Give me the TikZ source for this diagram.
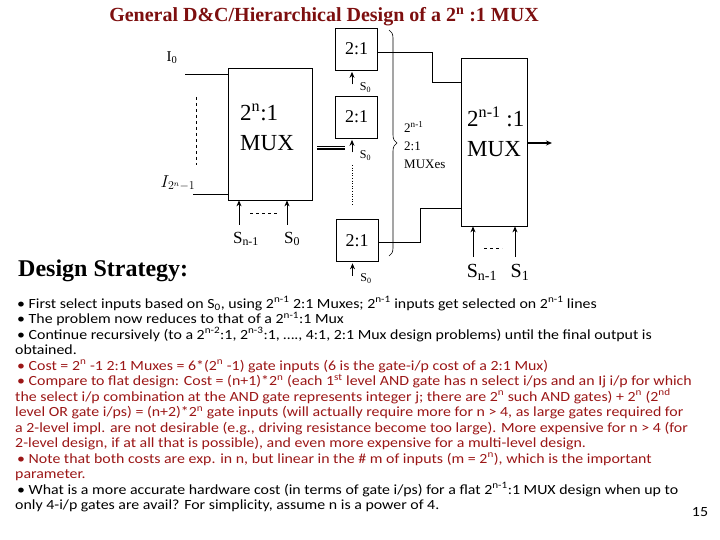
\documentclass[tikz,border=0pt]{standalone}
\usepackage{fontspec}
\setmainfont{Liberation Serif}
\newfontfamily\bodyfont[FakeStretch=1.135]{Carlito}
\usetikzlibrary{arrows.meta,decorations.pathreplacing}
\definecolor{titlered}{RGB}{125,15,15}
\definecolor{notered}{RGB}{155,22,22}
\begin{document}
\begin{tikzpicture}[x=1pt,y=-1pt,
  box/.style={draw, line width=0.7pt, inner sep=0pt},
  sel/.style={-{Stealth[length=6pt,width=5pt]}, line width=0.8pt},
  textline/.style={anchor=base west, inner sep=0pt, font=\bodyfont\fontsize{14}{15}\selectfont}]
\useasboundingbox (0,0) rectangle (720,540);

\node[text=titlered, font=\bfseries\fontsize{20}{22}\selectfont] (title) at (324,17)
  {General D\&C/Hierarchical Design of a 2\textsuperscript{n} :1 MUX};

% the 2^n:1 mux that is split up
\node[box, minimum width=84pt, minimum height=132pt] (bigmux) at (270,134) {};
\node[anchor=west, align=left, inner sep=0pt, font=\fontsize{23}{30}\selectfont] (biglbl) at (240,127) {2\textsuperscript{n}:1\\MUX};
\node[font=\fontsize{15}{16}\selectfont] (i0) at (172,58) {I\textsubscript{0}};
\coordinate (i0in) at (185,74);
\draw (i0in) -- (i0in -| bigmux.west);
\node[font=\fontsize{17}{18}\selectfont] (ilast) at (178,183) {$I_{2^n-1}$};
\coordinate (ilastin) at (193,194);
\draw (ilastin) -- (ilastin -| bigmux.west);
\draw[dashed] (196,97) -- (196,165);
\coordinate (bs1) at (239,225);
\coordinate (bs0) at (287,225);
\draw[sel] (bs1) -- (bs1 |- bigmux.south);
\draw[sel] (bs0) -- (bs0 |- bigmux.south);
\draw[dashed] (250,213) -- (277,213);
\node[font=\fontsize{17}{19}\selectfont] (bsn1lbl) at (246,239) {S\textsubscript{n-1}};
\node[font=\fontsize{17}{19}\selectfont] (bs0lbl) at (292,239) {S\textsubscript{0}};

% equivalent sign
\foreach \dy in {-1.7,0,1.7}
  \draw[line width=0.6pt] (317,148+\dy) -- (345,148+\dy);

% first level of 2:1 muxes
\node[box, minimum width=42pt, minimum height=42pt, font=\fontsize{18}{20}\selectfont] (muxa) at (356.5,49) {2:1};
\node[box, minimum width=42pt, minimum height=42pt, font=\fontsize{18}{20}\selectfont] (muxb) at (356.5,117) {2:1};
\node[box, minimum width=42pt, minimum height=42pt, font=\fontsize{18}{20}\selectfont] (muxc) at (357,240.5) {2:1};
\foreach \m in {muxa,muxb,muxc} {
  \draw[sel] ([xshift=-4.5pt,yshift=-14pt]\m.south) -- ([xshift=-4.5pt,yshift=-1.5pt]\m.south);
  \node[font=\fontsize{12}{14}\selectfont] (\m sel) at ([xshift=9pt,yshift=-17pt]\m.south) {S\textsubscript{0}};
}
\draw[dotted, line width=0.6pt] (352,165) -- (352,205);

\coordinate (bt) at (389,30);
\coordinate (bb) at (389,256);
\draw[decorate, decoration={brace, amplitude=8pt}, line width=0.6pt] (bt) -- (bb);
\node[anchor=west, align=left, inner sep=0pt, font=\fontsize{13}{18}\selectfont] (count) at (404,145) {2\textsuperscript{n-1}\\2:1\\MUXes};

% the 2^(n-1):1 mux
\node[box, minimum width=66pt, minimum height=168pt] (smallmux) at (494,142) {};
\node[anchor=west, align=left, inner sep=0pt, font=\fontsize{23}{30}\selectfont] (smalllbl) at (467,132) {2\textsuperscript{n-1} :1\\MUX};
\coordinate (ja) at (432,82);
\draw ([yshift=-3pt]muxa.east) -| (ja) -- (ja -| smallmux.west);
\coordinate (jc) at (420,208);
\draw ([yshift=-2pt]muxc.east) -| (jc) -- (jc -| smallmux.west);
\coordinate (out) at (552,143);
\draw[sel, line width=1.2pt] (smallmux.east |- out) -- (out);
\coordinate (rs1) at (473,257);
\coordinate (rs0) at (515,257);
\draw[sel] (rs1) -- (rs1 |- smallmux.south);
\draw[sel] (rs0) -- (rs0 |- smallmux.south);
\draw[dashed] (484,248) -- (502,248);
\node[font=\fontsize{20}{22}\selectfont] (rsn1lbl) at (482,272) {S\textsubscript{n-1}};
\node[font=\fontsize{20}{22}\selectfont] (rs1lbl) at (520,272) {S\textsubscript{1}};

\node[anchor=west, inner sep=0pt, font=\bfseries\fontsize{24}{26}\selectfont] (strategy) at (18,271) {Design Strategy:};

% notes
\node[textline] (l1) at (17,308) {• First select inputs based on S\textsubscript{0}, using 2\textsuperscript{n-1} 2:1 Muxes; 2\textsuperscript{n-1} inputs get selected on 2\textsuperscript{n-1} lines};
\node[textline] (l2) at (17,323.5) {• The problem now reduces to that of a 2\textsuperscript{n-1}:1 Mux};
\node[textline] (l3) at (17,339) {• Continue recursively (to a 2\textsuperscript{n-2}:1, 2\textsuperscript{n-3}:1, …., 4:1, 2:1 Mux design problems) until the final output is};
\node[textline] (l4) at (15,354.5) {obtained.};
\node[textline, text=notered] (l5) at (17,370) {• Cost = 2\textsuperscript{n} -1 2:1 Muxes = 6*(2\textsuperscript{n} -1) gate inputs (6 is the gate-i/p cost of a 2:1 Mux)};
\node[textline, text=notered] (l6) at (17,385.5) {• Compare to flat design: Cost = (n+1)*2\textsuperscript{n} (each 1\textsuperscript{st} level AND gate has n select i/ps and an Ij i/p for which};
\node[textline, text=notered] (l7) at (15,401) {the select i/p combination at the AND gate represents integer j; there are 2\textsuperscript{n} such AND gates) + 2\textsuperscript{n} (2\textsuperscript{nd}};
\node[textline, text=notered] (l8) at (15,416.5) {level OR gate i/ps) = (n+2)*2\textsuperscript{n} gate inputs (will actually require more for n > 4, as large gates required for};
\node[textline, text=notered] (l9) at (15,432) {a 2-level impl. are not desirable (e.g., driving resistance become too large). More expensive for n > 4 (for};
\node[textline, text=notered] (l10) at (15,447.5) {2-level design, if at all that is possible), and even more expensive for a multi-level design.};
\node[textline, text=notered] (l11) at (17,463) {• Note that both costs are exp. in n, but linear in the \# m of inputs (m = 2\textsuperscript{n}), which is the important};
\node[textline, text=notered] (l12) at (15,478.5) {parameter.};
\node[textline] (l13) at (17,494) {• What is a more accurate hardware cost (in terms of gate i/ps) for a flat 2\textsuperscript{n-1}:1 MUX design when up to};
\node[textline] (l14) at (15,509.5) {only 4-i/p gates are avail? For simplicity, assume n is a power of 4.};
\node[font=\bodyfont\fontsize{14}{15}\selectfont] (page) at (700,512) {15};
\end{tikzpicture}
\end{document}
